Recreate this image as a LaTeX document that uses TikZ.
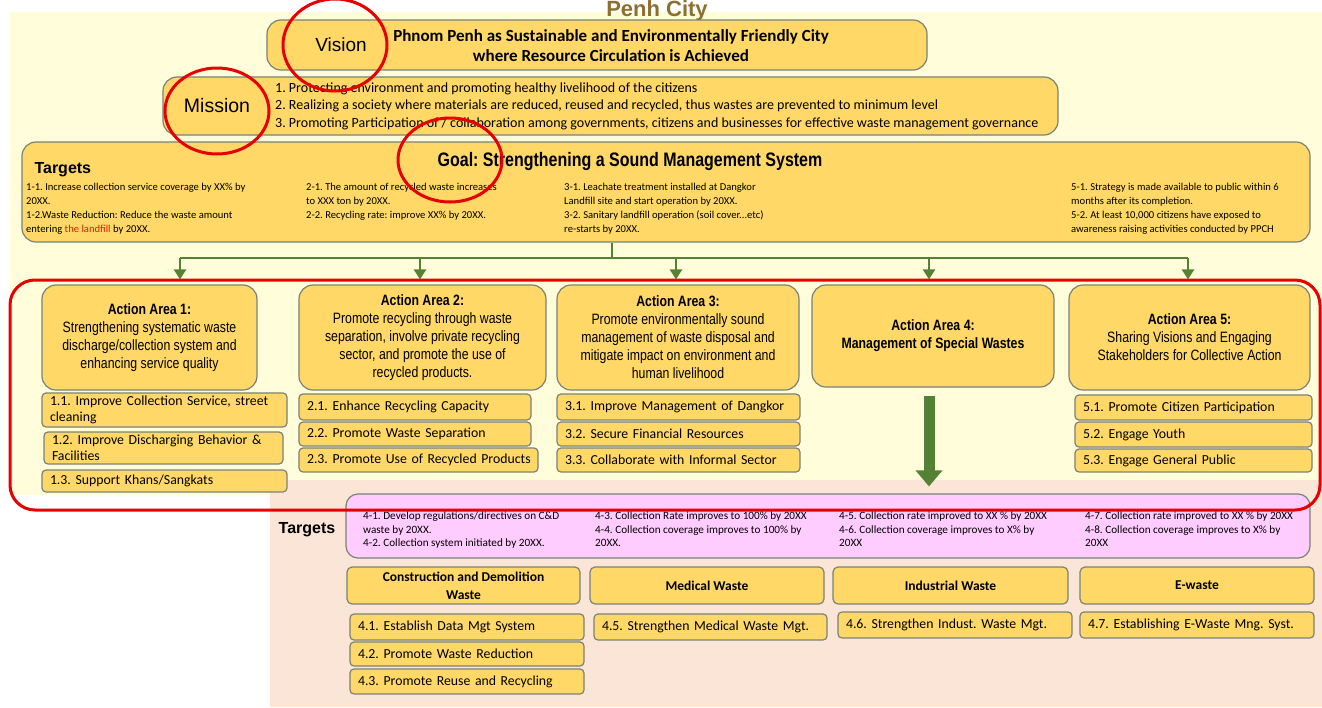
\documentclass[tikz,border=0pt]{standalone}
\usepackage{fontspec}
\setmainfont{Carlito}
\newfontfamily\sansschrift{Liberation Sans}
\newfontfamily\schmalschrift{Liberation Sans}[FakeStretch=0.82]
\usetikzlibrary{arrows.meta}
\definecolor{gold}{RGB}{255,216,104}
\definecolor{rahmen}{RGB}{120,130,120}
\definecolor{hellgelb}{RGB}{255,253,218}
\definecolor{pfirsich}{RGB}{251,229,214}
\definecolor{rosa}{RGB}{255,204,255}
\definecolor{gruen}{RGB}{84,130,53}
\definecolor{rot}{RGB}{230,0,0}
\definecolor{braun}{RGB}{140,112,50}
\tikzset{kasten/.style={draw=rahmen, fill=gold, line width=1.2pt, rounded corners=14pt},
  bereich/.style={kasten, align=center, inner sep=2pt,
    font=\schmalschrift\fontsize{15}{18}\selectfont},
  teil/.style={draw=rahmen, fill=gold, line width=1.2pt, rounded corners=4pt,
    align=left, inner xsep=8pt, inner ysep=1pt, font=\fontsize{13.8}{16}\selectfont},
  kat/.style={draw=rahmen, fill=gold, line width=1.2pt, rounded corners=5pt,
    align=center, font=\bfseries\fontsize{13.5}{18}\selectfont},
  klein/.style={anchor=north west, align=left, inner sep=0pt,
    font=\fontsize{10.6}{14}\selectfont},
  ast/.style={draw=gruen, line width=2.5pt},
  markierung/.style={draw=rot, line width=3pt}}

\begin{document}
\frenchspacing\hyphenpenalty=10000
\begin{tikzpicture}[x=1pt, y=-1pt, >={Triangle[width=12pt,length=10pt]}]
  \useasboundingbox (0,0) rectangle (1322,707);
  \fill[white] (0,0) rectangle (1322,707);
  \fill[hellgelb] (10,12) rectangle (1322,495);
  \fill[pfirsich] (270,480) rectangle (1322,707);
  \node[text=braun, font=\sansschrift\bfseries\fontsize{22}{24}\selectfont] (titel) at (657,11) {Penh City};

  % vision, mission, goal
  \path node [kasten, minimum width=660pt, minimum height=50pt] (vision) at (597,45) {}
        node [font=\sansschrift\fontsize{19}{22}\selectfont] (visionwort) at (341,45) {Vision}
        node [align=center, font=\bfseries\fontsize{17}{20}\selectfont] (visiontext) at (611,46)
          {Phnom Penh as Sustainable and Environmentally Friendly City\\where Resource Circulation is Achieved}
        node [kasten, minimum width=895pt, minimum height=58pt] (mission) at (610.5,106) {}
        node [font=\sansschrift\fontsize{19.5}{22}\selectfont] (missionwort) at (217,106) {Mission}
        node [anchor=west, align=left, inner sep=0pt, font=\fontsize{14}{17.5}\selectfont] (missiontext) at (275,106)
          {1. Protecting environment and promoting healthy livelihood of the citizens\\
           2. Realizing a society where materials are reduced, reused and recycled, thus wastes are prevented to minimum level\\
           3. Promoting Participation of / collaboration among governments, citizens and businesses for effective waste management governance}
        node [kasten, minimum width=1288pt, minimum height=100pt] (goal) at (666,192) {}
        node [anchor=west, font=\sansschrift\bfseries\fontsize{16}{18}\selectfont] (targets) at (31,170) {Targets}
        node [font=\schmalschrift\bfseries\fontsize{19.5}{22}\selectfont] (goaltext) at (630,161)
          {Goal: Strengthening a Sound Management System};

  % targets of the goal
  \path node [klein] (z1) at (26,183) {1-1. Increase collection service coverage by XX\% by\\20XX.\\1-2.Waste Reduction: Reduce the waste amount\\entering \textcolor{rot!80!orange}{the landfill} by 20XX.}
        node [klein] (z2) at (306,183) {2-1. The amount of recycled waste increases\\to XXX ton by 20XX.\\2-2. Recycling rate: improve XX\% by 20XX.}
        node [klein] (z3) at (564,183) {3-1. Leachate treatment installed at Dangkor\\Landfill site and start operation by 20XX.\\3-2. Sanitary landfill operation (soil cover...etc)\\re-starts by 20XX.}
        node [klein] (z5) at (1071,183) {5-1. Strategy is made available to public within 6\\months after its completion.\\5-2. At least 10,000 citizens have exposed to\\awareness raising activities conducted by PPCH};

  % action areas
  \path node [bereich, minimum width=215pt, minimum height=105pt] (aa1) at (149.5,337.5)
          {\textbf{Action Area 1:}\\Strengthening systematic waste\\discharge/collection system and\\enhancing service quality}
        node [bereich, minimum width=247pt, minimum height=105pt] (aa2) at (422.5,337.5)
          {\textbf{Action Area 2:}\\Promote recycling through waste\\separation, involve private recycling\\sector, and promote the use of\\recycled products.}
        node [bereich, minimum width=242pt, minimum height=105pt] (aa3) at (678,337.5)
          {\textbf{Action Area 3:}\\Promote environmentally sound\\management of waste disposal and\\mitigate impact on environment and\\human livelihood}
        node [bereich, minimum width=242pt, minimum height=102pt] (aa4) at (933,336)
          {\textbf{Action Area 4:}\\\textbf{Management of Special Wastes}}
        node [bereich, minimum width=241pt, minimum height=105pt] (aa5) at (1189.5,337.5)
          {\textbf{Action Area 5:}\\Sharing Visions and Engaging\\Stakeholders for Collective Action};

  % sub items
  \path node [teil, text width=229pt, minimum height=34pt] (s11) at (164.5,410) {1.1. Improve Collection Service, street\\cleaning}
        node [teil, text width=223pt, minimum height=32pt] (s12) at (163.5,448) {1.2. Improve Discharging Behavior \&\\Facilities}
        node [teil, text width=229pt, minimum height=22pt] (s13) at (164.5,481) {1.3. Support Khans/Sangkats}
        node [teil, text width=216pt, minimum height=26pt] (s21) at (415,407) {2.1. Enhance Recycling Capacity}
        node [teil, text width=216pt, minimum height=24pt] (s22) at (415,434) {2.2. Promote Waste Separation}
        node [teil, text width=223pt, minimum height=24pt] (s23) at (418.5,460) {\mbox{2.3. Promote Use of Recycled Products}}
        node [teil, text width=227pt, minimum height=26pt] (s31) at (678.5,407) {3.1. Improve Management of Dangkor}
        node [teil, text width=227pt, minimum height=24pt] (s32) at (678.5,434) {3.2. Secure Financial Resources}
        node [teil, text width=227pt, minimum height=24pt] (s33) at (678.5,460) {3.3. Collaborate with Informal Sector}
        node [teil, text width=221pt, minimum height=25pt] (s51) at (1193.5,407.5) {5.1. Promote Citizen Participation}
        node [teil, text width=221pt, minimum height=25pt] (s52) at (1193.5,434.5) {5.2. Engage Youth}
        node [teil, text width=221pt, minimum height=23pt] (s53) at (1193.5,460.5) {5.3. Engage General Public};

  % special wastes
  \path node [kasten, fill=rosa, rounded corners=12pt, minimum width=964pt, minimum height=64pt] (ziele4) at (828,526) {}
        node [font=\sansschrift\bfseries\fontsize{16}{18}\selectfont] (targets4) at (307,530) {Targets}
        node [klein, font=\fontsize{11.2}{13.5}\selectfont] (z41) at (363,512) {4-1. Develop regulations/directives on C\&D\\waste by 20XX.\\4-2. Collection system initiated by 20XX.}
        node [klein, font=\fontsize{11.2}{13.5}\selectfont] (z43) at (595,512) {4-3. Collection Rate improves to 100\% by 20XX\\4-4. Collection coverage improves to 100\% by\\20XX.}
        node [klein, font=\fontsize{11.2}{13.5}\selectfont] (z45) at (839,512) {4-5. Collection rate improved to XX \% by 20XX\\4-6. Collection coverage improves to X\% by\\20XX}
        node [klein, font=\fontsize{11.2}{13.5}\selectfont] (z47) at (1085,512) {4-7. Collection rate improved to XX \% by 20XX\\4-8. Collection coverage improves to X\% by\\20XX}
        node [kat, minimum width=233pt, minimum height=37pt] (k1) at (463.5,585.5) {Construction and Demolition\\Waste}
        node [kat, minimum width=234pt, minimum height=37pt] (k2) at (707,585.5) {Medical Waste}
        node [kat, minimum width=235pt, minimum height=37pt] (k3) at (950.5,585.5) {Industrial Waste}
        node [kat, minimum width=234pt, minimum height=37pt] (k4) at (1197,585.5) {E-waste}
        node [teil, text width=218pt, minimum height=26pt] (s41) at (467,627) {4.1. Establish Data Mgt System}
        node [teil, text width=218pt, minimum height=24pt] (s42) at (467,654) {4.2. Promote Waste Reduction}
        node [teil, text width=218pt, minimum height=25pt] (s43) at (467,681.5) {4.3. Promote Reuse and Recycling}
        node [teil, text width=217pt, minimum height=26pt] (s45) at (710.5,627) {4.5. Strengthen Medical Waste Mgt.}
        node [teil, text width=218pt, minimum height=26pt] (s46) at (955,625) {4.6. Strengthen Indust. Waste Mgt.}
        node [teil, text width=218pt, minimum height=26pt] (s47) at (1197,625) {4.7. Establishing E-Waste Mng. Syst.};

  % connectors
  \coordinate (knick) at (612,258);
  \draw[ast] (goal.south -| knick) -- (knick);
  \draw[ast] ([xshift=30.5pt]aa1.north |- knick) -- ([xshift=-1.5pt]aa5.north |- knick);
  \foreach \n/\dx in {aa1/30.5pt, aa2/-2.5pt, aa3/-2pt, aa4/-4pt, aa5/-1.5pt}
    \draw[ast, ->, shorten >=5pt] ([xshift=\dx]\n.north |- knick) -- ([xshift=\dx]\n.north);
  \draw[draw=gruen, line width=11pt, -{Triangle[width=26pt,length=16pt]}, shorten <=8pt, shorten >=7pt]
    ([xshift=-4pt]aa4.south) -- ([xshift=-4pt]aa4.south |- ziele4.north);

  % red marks
  \draw[markierung] (335,45) ellipse [x radius=52pt, y radius=46pt];
  \draw[markierung] (217,111) ellipse [x radius=52pt, y radius=43pt];
  \draw[markierung] (450,160) ellipse [x radius=52pt, y radius=42pt];
  \draw[markierung, rounded corners=25pt] (10,280) rectangle (1320,510);
\end{tikzpicture}
\end{document}
